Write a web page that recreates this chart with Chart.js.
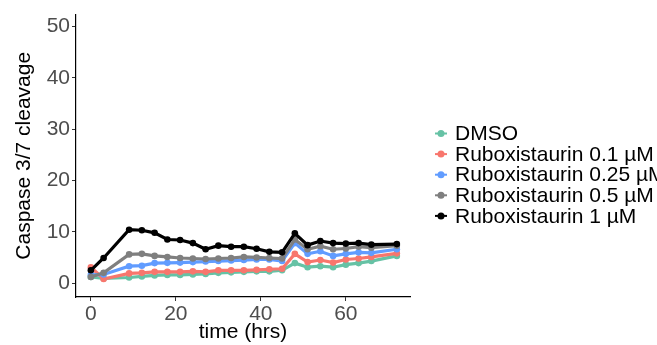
<!DOCTYPE html>
<html>
<head>
<meta charset="utf-8">
<script src="https://cdn.jsdelivr.net/npm/chart.js@4/dist/chart.umd.min.js"></script>
<style>
  html, body { margin: 0; padding: 0; background: #fff; }
  #wrap { width: 657px; height: 345px; position: relative; }
</style>
</head>
<body>
<div id="wrap"><canvas id="c" width="657" height="345"></canvas></div>
<script>
const times  = [0, 3, 9, 12, 15, 18, 21, 24, 27, 30, 33, 36, 39, 42, 45, 48, 51, 54, 57, 60, 63, 66, 72];
const dmso   = [1.2, 0.9, 1.1, 1.3, 1.5, 1.6, 1.6, 1.7, 1.8, 2.0, 2.1, 2.2, 2.3, 2.3, 2.5, 3.9, 3.1, 3.3, 3.1, 3.6, 3.9, 4.3, 5.3];
const rbx01  = [3.1, 0.8, 1.9, 2.0, 2.2, 2.2, 2.2, 2.3, 2.2, 2.5, 2.5, 2.5, 2.6, 2.7, 2.8, 5.7, 4.1, 4.5, 4.0, 4.6, 4.8, 5.1, 5.8];
const rbx025 = [1.6, 1.7, 3.3, 3.4, 3.9, 3.95, 4.0, 4.1, 4.2, 4.3, 4.4, 4.5, 4.6, 4.6, 4.3, 7.8, 5.7, 6.2, 5.3, 5.7, 6.0, 5.9, 6.6];
const rbx05  = [1.2, 2.0, 5.6, 5.7, 5.3, 5.1, 4.9, 4.8, 4.7, 4.8, 4.9, 5.1, 5.0, 4.9, 4.8, 8.5, 6.6, 7.2, 6.6, 6.75, 7.1, 6.9, 7.3];
const rbx1   = [2.5, 4.9, 10.4, 10.3, 9.8, 8.5, 8.4, 7.8, 6.6, 7.3, 7.1, 7.1, 6.7, 6.1, 6.0, 9.7, 7.4, 8.2, 7.8, 7.7, 7.8, 7.5, 7.6];

const seriesNames  = ['DMSO', 'Ruboxistaurin 0.1 \u00b5M', 'Ruboxistaurin 0.25 \u00b5M', 'Ruboxistaurin 0.5 \u00b5M', 'Ruboxistaurin 1 \u00b5M'];
const seriesValues = [dmso, rbx01, rbx025, rbx05, rbx1];
const seriesColors = ['#66c2a5', '#f8766d', '#619cff', '#7f7f7f', '#000000'];

const xTicks = [0, 20, 40, 60];
const yTicks = [0, 10, 20, 30, 40, 50];

const FONT = 'Liberation Sans, Arial, sans-serif';
const FS = 21;

const datasets = seriesValues.map((vals, i) => ({
  label: seriesNames[i],
  data: vals.map((v, j) => ({ x: times[j], y: v })),
  borderColor: seriesColors[i],
  backgroundColor: seriesColors[i],
  borderWidth: 3.2,
  pointRadius: 3.3,
  pointBorderWidth: 0,
  tension: 0,
  order: seriesValues.length - i
}));

// ggplot style legend on the right
const sideLegend = {
  id: 'sideLegend',
  afterDraw(chart) {
    const ctx = chart.ctx;
    ctx.save();
    ctx.font = FS + 'px ' + FONT;
    ctx.textBaseline = 'middle';
    ctx.textAlign = 'left';
    seriesNames.forEach((name, i) => {
      const y = 133.5 + i * 20.6;
      ctx.strokeStyle = seriesColors[i];
      ctx.fillStyle = seriesColors[i];
      ctx.lineWidth = 2;
      ctx.beginPath(); ctx.moveTo(435, y); ctx.lineTo(447, y); ctx.stroke();
      ctx.beginPath(); ctx.arc(441, y, 3.5, 0, Math.PI * 2); ctx.fill();
      ctx.fillStyle = '#000';
      ctx.fillText(name, 455, y + 1);
    });
    ctx.restore();
  }
};

new Chart(document.getElementById('c'), {
  type: 'line',
  data: { datasets },
  options: {
    responsive: false,
    animation: false,
    layout: { padding: { left: 0, right: 247, top: 13, bottom: 0 } },
    plugins: { legend: { display: false }, tooltip: { enabled: false } },
    scales: {
      x: {
        type: 'linear',
        min: -3.5, max: 75.1,
        afterBuildTicks: (s) => { s.ticks = xTicks.map(v => ({ value: v })); },
        afterFit: (s) => { s.height = 48; },
        border: { display: true, color: '#000', width: 1.2 },
        grid: { display: true, drawOnChartArea: false, tickLength: 4, color: '#333', tickColor: '#333' },
        ticks: { font: { size: FS, family: FONT }, color: '#4d4d4d', padding: 1, maxRotation: 0 },
        title: { display: true, text: 'time (hrs)', font: { size: FS, family: FONT }, color: '#000', padding: { top: 0, bottom: 0 } }
      },
      y: {
        type: 'linear',
        min: -2.7, max: 52.3,
        afterBuildTicks: (s) => { s.ticks = yTicks.map(v => ({ value: v })); },
        afterFit: (s) => { s.width = 76; },
        border: { display: true, color: '#000', width: 1.2 },
        grid: { display: true, drawOnChartArea: false, tickLength: 4, color: '#333', tickColor: '#333' },
        ticks: { font: { size: FS, family: FONT }, color: '#4d4d4d', padding: 2 },
        title: { display: true, text: 'Caspase 3/7 cleavage', font: { size: FS, family: FONT }, color: '#000', padding: { top: 12, bottom: 0 } }
      }
    }
  },
  plugins: [sideLegend]
});
</script>
</body>
</html>
